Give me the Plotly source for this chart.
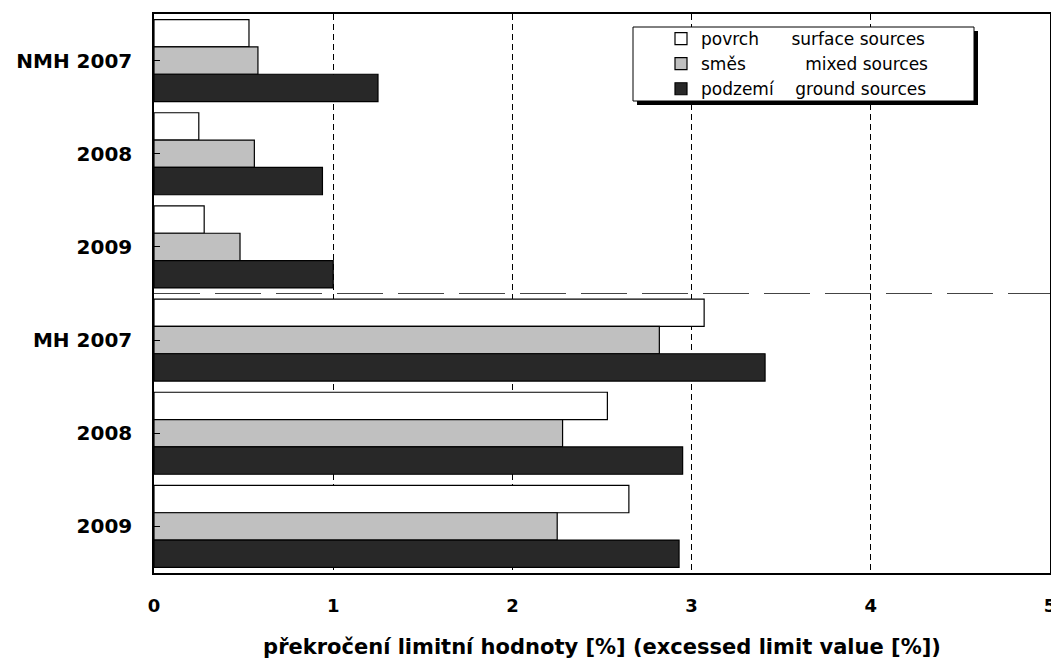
import plotly.graph_objects as go

# categories (top to bottom) and values, in %
categories = ['NMH 2007', '2008', '2009', 'MH 2007', '2008', '2009']
surface = [0.53, 0.25, 0.28, 3.07, 2.53, 2.65]
mixed = [0.58, 0.56, 0.48, 2.82, 2.28, 2.25]
ground = [1.25, 0.94, 1.00, 3.41, 2.95, 2.93]

NB = '\u00a0'
series_names = [
    'povrch' + NB * 6 + 'surface sources',
    'směs' + NB * 11 + 'mixed sources',
    'podzemí' + NB * 4 + 'ground sources',
]
series_colors = ['#ffffff', '#c0c0c0', '#282828']

FONT = 'DejaVu Sans'
positions = list(range(len(categories)))

fig = go.Figure()
for name, vals, col in zip(series_names, [surface, mixed, ground], series_colors):
    fig.add_trace(go.Bar(
        name=name, x=vals, y=positions, orientation='h',
        marker=dict(color=col, line=dict(color='black', width=1.2)),
    ))

# the page body has an 8px margin, so the figure is drawn 8px smaller
OFF = 8
W, H = 1059 - OFF, 659 - OFF
# plot area on the page: x 154..1050, y 14..573
L, T = 154 - OFF, 14 - OFF
R, B = W - (1050 - OFF), H - (573 - OFF)
pw, ph = W - L - R, H - T - B


def px(x):
    # page pixel -> paper x
    return (x - OFF - L) / pw


def py(y):
    # page pixel -> paper y
    return 1 - (y - OFF - T) / ph


# dashed separator between NMH and MH groups
fig.add_shape(type='line', xref='paper', yref='y', x0=0, x1=1, y0=2.5, y1=2.5,
              line=dict(color='#444444', width=1, dash='46px,15px'), layer='above')
# legend frame with shadow
fig.add_shape(type='rect', xref='paper', yref='paper',
              x0=px(637), x1=px(978), y0=py(105), y1=py(31),
              fillcolor='black', line=dict(width=0), layer='above')
fig.add_shape(type='rect', xref='paper', yref='paper',
              x0=px(633), x1=px(974), y0=py(101), y1=py(27),
              fillcolor='white', line=dict(color='black', width=1), layer='above')

fig.update_layout(
    width=W, height=H,
    margin=dict(l=L, r=R, t=T, b=B, autoexpand=False),
    plot_bgcolor='white', paper_bgcolor='white',
    barmode='group', bargap=0.12, bargroupgap=0,
    font=dict(family=FONT, color='black'),
    showlegend=True,
    legend=dict(
        x=px(661), y=py(21), xanchor='left', yanchor='top',
        bgcolor='rgba(0,0,0,0)', borderwidth=0,
        font=dict(family=FONT, size=17, color='black'),
        traceorder='normal',
    ),
)

fig.update_xaxes(
    range=[0, 5], tickvals=[0, 1, 2, 3, 4, 5], automargin=False,
    showgrid=True, gridcolor='black', gridwidth=1, griddash='6px,4px',
    showline=True, linecolor='black', linewidth=1.5, mirror=True,
    zeroline=False, ticks='',
    tickfont=dict(family=FONT, size=18, weight='bold'),
    ticklabelstandoff=16,
    title=dict(text='překročení limitní hodnoty [%] (excessed limit value [%])',
               font=dict(family=FONT, size=21, weight='bold'), standoff=24),
)
fig.update_yaxes(
    range=[5.5, -0.5], tickvals=positions, ticktext=categories, automargin=False,
    showgrid=False, zeroline=False,
    showline=True, linecolor='black', linewidth=1.5, mirror=True,
    ticks='inside', ticklen=6, tickcolor='black',
    tickfont=dict(family=FONT, size=20, weight='bold'),
    ticklabelstandoff=16,
)

fig.write_html('out.html')
